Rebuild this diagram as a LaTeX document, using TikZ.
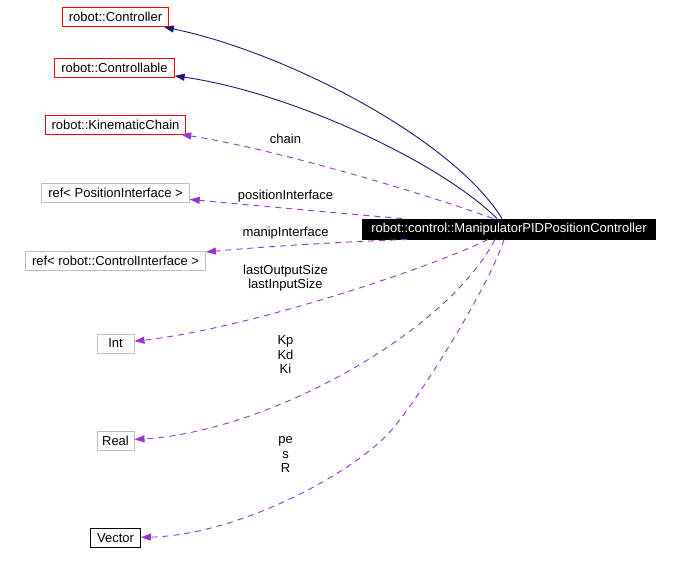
\documentclass[tikz,border=0pt]{standalone}
\usepackage{fontspec}
\setmainfont{Liberation Sans}
\usepackage{tikz}
\usetikzlibrary{arrows.meta, positioning, calc}
\definecolor{inhblue}{RGB}{25,25,112}
\definecolor{usepurple}{RGB}{154,50,205}
\definecolor{clsgrey}{RGB}{191,191,191}
\definecolor{clsred}{RGB}{255,0,0}
\tikzset{
  cls/.style={rectangle, draw=black, fill=white, text=black,
    minimum height=19pt, minimum width=37pt, inner xsep=6.5pt, inner ysep=0pt,
    line width=1pt, font=\fontsize{13}{14.5}\selectfont},
  redcls/.style={cls, draw=clsred},
  greycls/.style={cls, draw=clsgrey},
  maincls/.style={cls, draw=black, fill=black, text=white,
    minimum height=20pt, inner xsep=8.5pt},
  inharrow/.style={-{Triangle[length=10pt,width=7pt]}, line width=0.9pt, color=inhblue},
  usearrow/.style={-{Triangle[length=10pt,width=7pt]}, line width=0.9pt, color=usepurple,
    dash pattern=on 6pt off 5pt},
  edgelbl/.style={align=center, text=black, inner sep=0pt,
    font=\fontsize{13}{14.5}\selectfont}
}
\begin{document}
\begin{tikzpicture}[x=1pt, y=-1pt]
  \useasboundingbox (0,0) rectangle (678,565);

  % Class nodes
  \node[redcls]  (ctrl)     at (115.5, 17)   {robot::Controller};
  \node[redcls]  (ctrlable) at (114.5, 67.5) {robot::Controllable};
  \node[redcls]  (kin)      at (115.5, 124.5) {robot::KinematicChain};
  \node[greycls] (posif)    at (115.5, 192.5) {ref< PositionInterface >};
  \node[greycls] (ctrlif)   at (115.5, 260.5) {ref< robot::ControlInterface >};
  \node[greycls] (int)      at (115.5, 343.5) {Int};
  \node[greycls, inner xsep=5pt] (real) at (115.5, 440.5) {Real};
  \node[cls]     (vec)      at (115.5, 538)  {Vector};

  % Documented class
  \node[maincls] (main) at (509, 229) {robot::control::ManipulatorPIDPositionController};

  % Inheritance
  \draw[inharrow] ([xshift=-7pt]main.north) .. controls (452,138) and (285,52) .. (ctrl);
  \draw[inharrow] ([xshift=-12pt]main.north) .. controls (440,162) and (290,92) .. (ctrlable);

  % Usage
  \draw[usearrow] ([xshift=-16pt]main.north) .. controls (420,192) and (270,148) .. (kin);
  \draw[usearrow] ([xshift=-107pt]main.north) .. controls (360,215) and (260,206) .. (posif);
  \draw[usearrow] ([xshift=-102pt]main.south) .. controls (360,241) and (270,246) .. (ctrlif);
  \draw[usearrow] ([xshift=-21pt]main.south) .. controls (430,268) and (250,328) .. (int);
  \draw[usearrow] ([xshift=-14pt]main.south) .. controls (445,335) and (265,432) .. (real);
  \draw[usearrow] ([xshift=-5pt]main.south) .. controls (490,285) and (415,406) .. (387,435)
    .. controls (345,478) and (235,535) .. (vec);

  % Member labels
  \node[edgelbl] (lblchain) at (285.5, 138.5) {chain};
  \node[edgelbl] (lblpos)   at (285.5, 196.5) {positionInterface};
  \node[edgelbl] (lblmanip) at (285.5, 233)   {manipInterface};
  \node[edgelbl] (lblsize)  at (285.5, 278)   {lastOutputSize\\lastInputSize};
  \node[edgelbl] (lblgain)  at (285.5, 355)   {Kp\\Kd\\Ki};
  \node[edgelbl] (lblvec)   at (285.5, 454.5) {pe\\s\\R};
\end{tikzpicture}
\end{document}
